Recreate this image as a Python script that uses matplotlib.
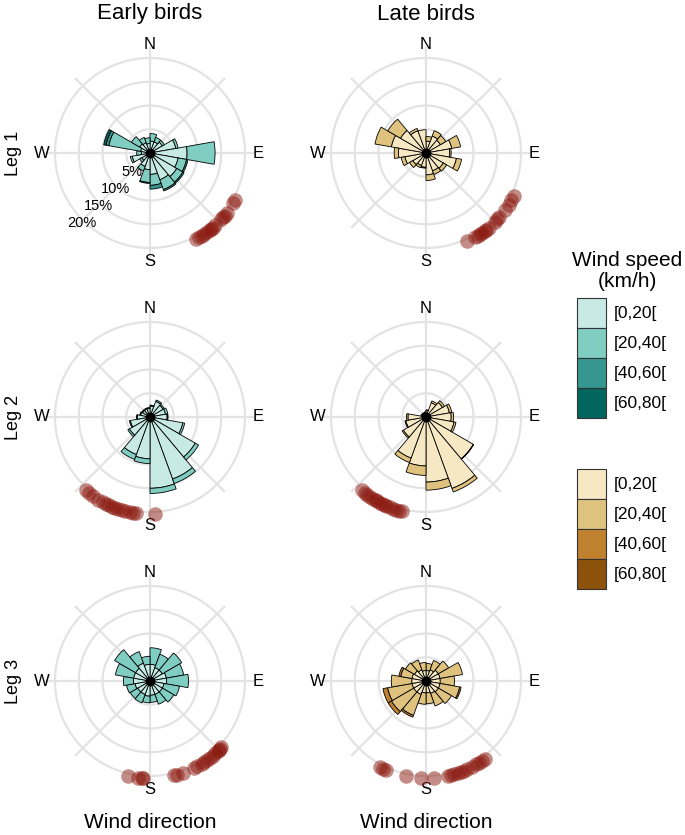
import numpy as np
import matplotlib
matplotlib.use("Agg")
import matplotlib.pyplot as plt
from matplotlib.patches import Patch

plt.rcParams['font.family'] = ['Liberation Sans', 'DejaVu Sans']

W, H = 685, 835
fig = plt.figure(figsize=(W / 100, H / 100), dpi=100)

# wind direction bins (20 deg wide, centre of each bin, compass degrees)
dir_centres = np.arange(10, 360, 20)
speed_labels = ["[0,20[", "[20,40[", "[40,60[", "[60,80["]
early_colours = ["#c7eae5", "#80cdc1", "#35978f", "#01665e"]
late_colours = ["#f6e8c3", "#dfc27d", "#bf812d", "#8c510a"]

# frequency (%) per direction bin, one row per wind speed class
early_leg1 = [
    [2.5, 2.5, 3.0, 5.5, 7.8, 6.0, 6.5, 6.0, 4.5, 3.5, 3.0, 2.0, 3.8, 1.8, 2.0, 2.5, 2.3, 2.0],
    [1.6, 1.0, 0.5, 0.5, 5.9, 1.8, 1.5, 2.2, 2.3, 2.7, 1.0, 0.5, 0.4, 1.0, 6.8, 2.0, 1.2, 1.2],
    [0, 0, 0, 0, 0, 0.3, 0.3, 0.3, 0.8, 0.2, 0, 0, 0, 0, 0.6, 0, 0, 0],
    [0, 0, 0, 0, 0, 0, 0, 0, 0, 0, 0, 0, 0, 0, 0.5, 0, 0, 0],
]
late_leg1 = [
    [2.5, 3.8, 3.5, 5.5, 5.0, 6.5, 4.2, 4.0, 4.6, 3.0, 2.8, 3.2, 4.5, 5.8, 7.4, 6.2, 5.0, 4.9],
    [1.0, 1.2, 1.3, 1.9, 0.3, 1.1, 0.8, 0.8, 1.2, 0.2, 0.5, 0.8, 0.8, 0.9, 3.5, 3.1, 0.5, 0.0],
    [0] * 18,
    [0] * 18,
]
early_leg2 = [
    [2.3, 3.5, 3.2, 3.3, 3.6, 7.0, 11.0, 13.9, 15.0, 8.8, 8.4, 5.0, 4.2, 2.7, 2.0, 1.8, 1.8, 1.8],
    [0.2, 0.3, 0.3, 0.5, 0.2, 0.4, 0.8, 1.0, 1.1, 1.0, 1.1, 0.4, 0.2, 0.1, 0.2, 0.2, 0.2, 0.2],
    [0] * 18,
    [0] * 18,
]
late_leg2 = [
    [1.4, 3.2, 4.0, 5.0, 5.3, 6.0, 11.5, 16.0, 13.7, 10.3, 9.2, 5.5, 4.3, 3.8, 1.0, 0.9, 0.9, 1.0],
    [0.1, 0.4, 0.5, 0.5, 0.5, 0.4, 0.1, 0.8, 1.7, 2.0, 1.0, 0.3, 0.2, 0.3, 0.1, 0.1, 0.1, 0.1],
    [0] * 18,
    [0] * 18,
]
early_leg3 = [
    [3.5, 3.0, 3.0, 3.5, 3.5, 3.0, 3.0, 3.0, 3.0, 3.2, 3.0, 3.0, 3.2, 3.5, 3.5, 3.5, 4.0, 3.5],
    [3.5, 3.0, 4.7, 3.7, 4.6, 3.3, 2.8, 2.2, 1.5, 1.4, 1.9, 1.8, 1.8, 2.1, 3.9, 5.1, 2.6, 1.7],
    [0] * 18,
    [0] * 18,
]
late_leg3 = [
    [2.2, 2.5, 3.0, 3.0, 3.0, 3.0, 3.0, 2.8, 2.5, 2.5, 3.0, 3.0, 3.0, 3.0, 3.0, 2.8, 2.5, 2.2],
    [1.5, 2.1, 2.5, 4.8, 3.0, 4.2, 3.2, 2.8, 2.3, 2.4, 4.7, 5.4, 5.2, 4.3, 2.4, 2.2, 2.2, 1.7],
    [0, 0, 0, 0, 0, 0.3, 0, 0, 0, 0, 0.4, 0.8, 1.0, 0, 0.4, 0, 0, 0],
    [0] * 18,
]

# departure directions of the birds (compass degrees)
early_leg1_birds = [119, 121, 128, 130, 131, 133, 138, 140, 141, 142, 144, 146, 148, 150, 152]
late_leg1_birds = [116, 119, 122, 126, 131, 133, 135, 140, 142, 143, 145, 146, 148, 150, 155]
early_leg2_birds = [177, 188, 190, 192, 195, 197, 199, 201, 203, 205, 207, 209, 212, 216, 219, 221]
late_leg2_birds = [194, 196, 198, 200, 202, 204, 205, 207, 208, 210, 211, 213, 215, 217, 219, 221]
early_leg3_birds = [193, 187, 185, 184, 166, 164, 160, 153, 151, 148, 146, 144, 142, 140, 138,
                    136, 135, 134, 133]
late_leg3_birds = [208, 206, 204, 192, 183, 175, 167, 165, 163, 161, 159, 157, 155, 152, 149,
                   147, 145, 143]

compass = ["N", "E", "S", "W"]
compass_deg = [0, 90, 180, 270]
pct_rings = [5, 10, 15, 20]

grid_col = "#e3e3e3"
R = 22.3      # radial limit in %
PX = 4.75     # pixels per %


def rose(cx, cy, freqs, colours, birds, ring_labels=False):
    size = 2 * R * PX
    ax = fig.add_axes([(cx - size / 2) / W, 1 - (cy + size / 2) / H, size / W, size / H],
                      projection='polar')
    ax.set_theta_zero_location('N')
    ax.set_theta_direction(-1)
    ax.set_ylim(0, R)
    ax.axis('off')

    th = np.linspace(0, 2 * np.pi, 361)
    for r in pct_rings:
        ax.plot(th, np.full_like(th, r), color=grid_col, lw=1.6, zorder=1)
    for a in range(0, 360, 45):
        ax.plot([np.radians(a)] * 2, [0, R], color=grid_col, lw=1.6, zorder=1)

    theta = np.radians(dir_centres)
    bottom = np.zeros(len(dir_centres))
    for vals, col in zip(freqs, colours):
        vals = np.asarray(vals, dtype=float)
        m = vals > 0
        if m.any():
            ax.bar(theta[m], vals[m], width=np.radians(20), bottom=bottom[m], color=col,
                   edgecolor='black', linewidth=0.6, zorder=2)
        bottom += vals
    ax.plot(0, 0, 'o', color='black', ms=6, zorder=3)

    ax.plot(np.radians(birds), np.full(len(birds), 20.5), 'o', ms=10.5, color='#8b1a10',
            alpha=0.5, mec='none', zorder=4, clip_on=False)

    for lab, a in zip(compass, compass_deg):
        ax.text(np.radians(a), 22.8, lab, ha='center', va='center', fontsize=12)
    if ring_labels:
        for r in pct_rings:
            ax.text(np.radians(224), r + 0.5, f"{r}%", ha='center', va='center',
                    fontsize=10.5, zorder=5)
    return ax


rose(150, 153, early_leg1, early_colours, early_leg1_birds, ring_labels=True)
rose(426, 153, late_leg1, late_colours, late_leg1_birds)
rose(150, 417, early_leg2, early_colours, early_leg2_birds)
rose(426, 417, late_leg2, late_colours, late_leg2_birds)
rose(150, 681, early_leg3, early_colours, early_leg3_birds)
rose(426, 681, late_leg3, late_colours, late_leg3_birds)

fig.text(150 / W, 1 - 14 / H, "Early birds", ha='center', va='center', fontsize=16)
fig.text(426 / W, 1 - 14 / H, "Late birds", ha='center', va='center', fontsize=16)
for i, cy in enumerate([153, 417, 681]):
    fig.text(13 / W, 1 - cy / H, f"Leg {i + 1}", ha='center', va='center', rotation=90,
             fontsize=13)
fig.text(150 / W, 1 - 822 / H, "Wind direction", ha='center', va='center', fontsize=15)
fig.text(426 / W, 1 - 822 / H, "Wind direction", ha='center', va='center', fontsize=15)

fig.text(627 / W, 1 - 271 / H, "Wind speed\n(km/h)", ha='center', va='center', fontsize=15,
         linespacing=1.1)
for top, cols in [(298, early_colours), (469, late_colours)]:
    handles = [Patch(facecolor=c, edgecolor='#333333', linewidth=0.8) for c in cols]
    fig.legend(handles, speed_labels, loc='upper left', bbox_to_anchor=(577 / W, 1 - top / H),
               frameon=False, fontsize=12.5, handlelength=1.67, handleheight=2.28,
               labelspacing=0, handletextpad=0.45, borderpad=0, borderaxespad=0)

fig.savefig("out.png", dpi=100)
